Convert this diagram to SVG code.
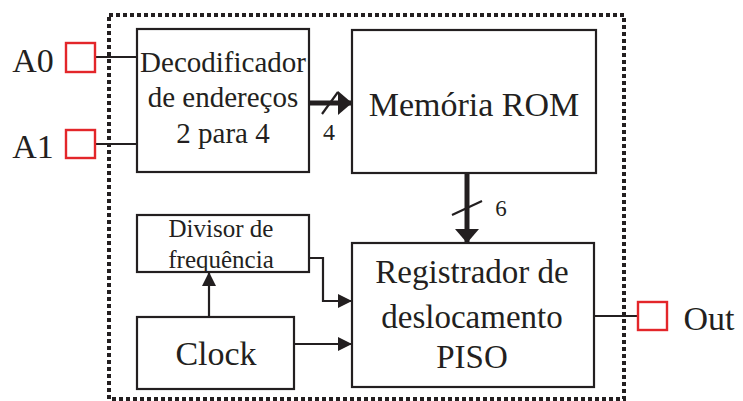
<svg xmlns="http://www.w3.org/2000/svg" width="743" height="401" viewBox="0 0 743 401">
<defs>
<style>
.box{fill:#fff;stroke:#231f20;stroke-width:2.2}
.pin{fill:none;stroke:#e3262a;stroke-width:2.4}
.w{fill:none;stroke:#231f20;stroke-width:2.2}
.bus{fill:none;stroke:#231f20;stroke-width:5}
text{font-family:"Liberation Serif","Times New Roman",serif;fill:#231f20;text-anchor:middle}
</style>
<marker id="bh" markerWidth="14" markerHeight="24" refX="14" refY="12" orient="auto" markerUnits="userSpaceOnUse" viewBox="0 0 14 24"><path d="M0,0 L14,12 L0,24 z" fill="#231f20"/></marker>
<marker id="sh" markerWidth="14" markerHeight="14" refX="13" refY="7" orient="auto" markerUnits="userSpaceOnUse" viewBox="0 0 14 14"><path d="M0,0 L14,7 L0,14 z" fill="#231f20"/></marker>
</defs>
<rect x="109" y="15" width="515" height="384" fill="none" stroke="#231f20" stroke-width="4" stroke-dasharray="4 3"/>
<g id="connectors">
<path class="w" d="M95,57 H137"/>
<path class="w" d="M95,144 H137"/>
<path class="w" d="M594,316 H638"/>
<path class="bus" d="M309,103 H352" marker-end="url(#bh)"/>
<path class="w" d="M322,114 L338,92" stroke-width="2.6"/>
<text x="329" y="140" font-size="24">4</text>
<path class="bus" d="M467,173 V243" marker-end="url(#bh)"/>
<path class="w" d="M452,215 L482,201" stroke-width="2.6"/>
<text x="501" y="216" font-size="23">6</text>
<path class="w" d="M309,258 H323 V301 H351" marker-end="url(#sh)"/>
<path class="w" d="M294,344 H351" marker-end="url(#sh)"/>
<path class="w" d="M209,317 V273" marker-end="url(#sh)"/>
</g>
<g id="A0"><rect class="pin" x="66" y="43" width="29" height="29"/><text x="33" y="72" font-size="34">A0</text></g>
<g id="A1"><rect class="pin" x="66" y="130" width="29" height="28"/><text x="33" y="158" font-size="34">A1</text></g>
<g id="Out"><rect class="pin" x="638" y="302" width="29" height="28"/><text x="709" y="330" font-size="34">Out</text></g>
<g id="decoder"><rect class="box" x="137" y="29" width="172" height="143"/>
<text x="223" y="72" font-size="29">Decodificador</text>
<text x="223" y="107" font-size="29">de endereços</text>
<text x="223" y="143" font-size="29">2 para 4</text></g>
<g id="rom"><rect class="box" x="352" y="30" width="244" height="143"/>
<text x="474" y="116" font-size="34">Memória ROM</text></g>
<g id="divisor"><rect class="box" x="137" y="215" width="172" height="57"/>
<text x="221" y="237" font-size="25">Divisor de</text>
<text x="221" y="268" font-size="25">frequência</text></g>
<g id="clock"><rect class="box" x="137" y="317" width="157" height="72"/>
<text x="216" y="365" font-size="34">Clock</text></g>
<g id="register"><rect class="box" x="352" y="243" width="242" height="144"/>
<text x="472" y="283" font-size="33">Registrador de</text>
<text x="472" y="328" font-size="33">deslocamento</text>
<text x="472" y="368" font-size="33">PISO</text></g>
</svg>
